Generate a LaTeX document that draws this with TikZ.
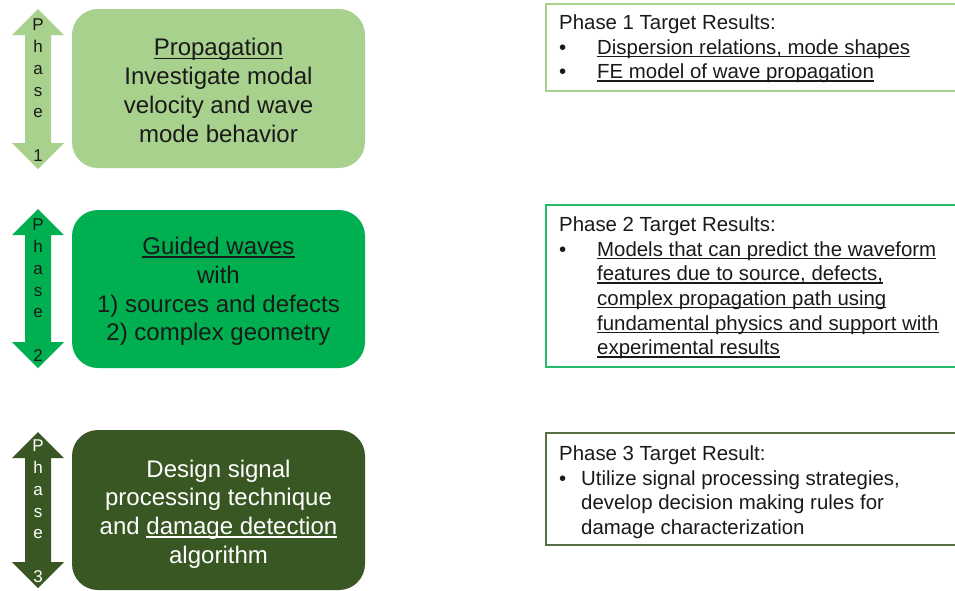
\documentclass[tikz,border=0pt]{standalone}
\usepackage{fontspec}
\setmainfont{Liberation Sans}
\definecolor{lgreen}{HTML}{A9D18E}
\definecolor{mgreen}{HTML}{00B050}
\definecolor{dgreen}{HTML}{385723}
\definecolor{txt}{HTML}{1A1A1A}
\newcommand\myul[1]{\setbox0\hbox{#1}\rlap{\rule[-0.14em]{\wd0}{0.065em}}\box0}
\newcommand\phasearrow[3]{%
  \fill[#3] (38,#1) -- (64,{#1+26}) -- (51,{#1+26}) -- (51,{#2-26}) -- (64,{#2-26})
    -- (38,#2) -- (12,{#2-26}) -- (25,{#2-26}) -- (25,{#1+26}) -- (12,{#1+26}) -- cycle;}
\begin{document}
\begin{tikzpicture}[x=1pt,y=-1pt,
  phasebox/.style={rounded corners=26pt, minimum width=293pt, inner sep=0pt},
  phasetext/.style={inner sep=0pt, align=center, font=\fontsize{24}{28.8}\selectfont},
  resbox/.style={line width=1.5pt},
  restext/.style={anchor=north west, inner sep=0pt, align=left, text=txt,
    font=\fontsize{20.4}{24.6}\selectfont},
  phaselbl/.style={anchor=north, inner sep=0pt, align=center,
    font=\fontsize{17}{21.7}\selectfont}]
\clip (0,0) rectangle (955,590);
\fill[white] (0,0) rectangle (955,590);

% phase arrows
\phasearrow{9}{169}{lgreen}
\phasearrow{209}{368}{mgreen}
\phasearrow{432}{588}{dgreen}
\node[phaselbl, text=txt] (p1) at (38,19) {P\\h\\a\\s\\e\\[21.7pt]1};
\node[phaselbl, text=txt] (p2) at (38,219) {P\\h\\a\\s\\e\\[21.7pt]2};
\node[phaselbl, text=white] (p3) at (38,440) {P\\h\\a\\s\\e\\[21.7pt]3};

% left boxes
\node[phasebox, fill=lgreen, minimum height=159pt] (b1) at (218.5,88.5) {};
\node[phasebox, fill=mgreen, minimum height=158pt] (b2) at (218.5,289) {};
\node[phasebox, fill=dgreen, minimum height=160pt] (b3) at (218.5,510) {};
\node[phasetext, text=txt, yshift=-2pt] (t1) at (b1.center)
  {\myul{Propagation}\\Investigate modal\\velocity and wave\\mode behavior};
\node[phasetext, text=txt, yshift=-2.5pt] (t2) at (b2.center)
  {\myul{Guided waves}\\with\\1) sources and defects\\2) complex geometry};
\node[phasetext, text=white, yshift=-4pt] (t3) at (b3.center)
  {Design signal\\processing technique\\and \myul{damage detection}\\algorithm};

% result boxes
\draw[resbox, draw=lgreen] (546,4) rectangle (975,91);
\draw[resbox, draw=mgreen!85] (546,205) rectangle (975,367);
\draw[resbox, draw=dgreen!85] (546,433) rectangle (975,545);

\node[restext] (r1) at (559,14.7)
  {Phase 1 Target Results:\\
   \makebox[38pt][l]{\textbullet}\myul{Dispersion relations, mode shapes}\\
   \makebox[38pt][l]{\textbullet}\myul{FE model of wave propagation}};
\node[restext] (r2) at (559,216.7)
  {Phase 2 Target Results:\\
   \makebox[38pt][l]{\textbullet}\myul{Models that can predict the waveform}\\
   \hspace*{38pt}\myul{features due to source, defects,}\\
   \hspace*{38pt}\myul{complex propagation path using}\\
   \hspace*{38pt}\myul{fundamental physics and support with}\\
   \hspace*{38pt}\myul{experimental results}};
\node[restext] (r3) at (559,445.7)
  {Phase 3 Target Result:\\
   \makebox[22pt][l]{\textbullet}Utilize signal processing strategies,\\
   \hspace*{22pt}develop decision making rules for\\
   \hspace*{22pt}damage characterization};
\end{tikzpicture}
\end{document}
